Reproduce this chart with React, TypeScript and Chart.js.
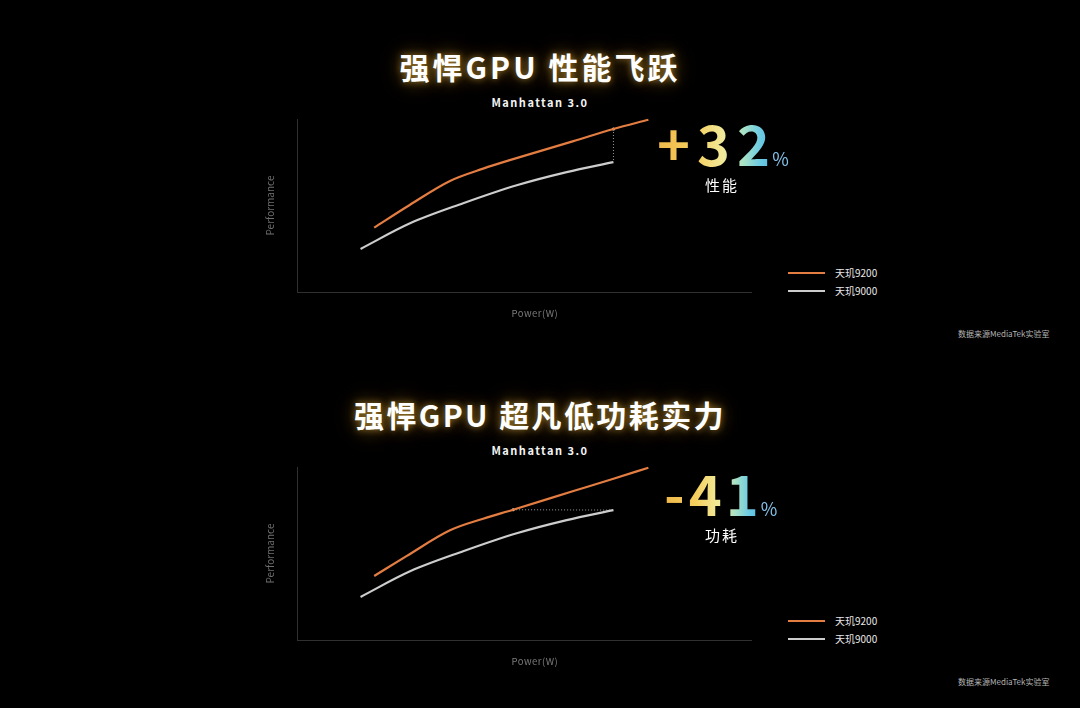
import React, { useEffect, useRef } from 'react';
import { Chart, registerables } from 'chart.js';

Chart.register(...registerables);

// ---------- data ----------
const seriesNames = ['天玑9200', '天玑9000'];
const seriesColors = ['#e37d42', '#cdcdcd'];

const xAxisTitle = 'Power(W)';
const yAxisTitle = 'Performance';

// 天玑9200 curve (top panel / bottom panel)
const power9200 = [17.0, 24.2, 33.7, 41.0, 47.6, 60.9, 69.7, 77.4];
const perf9200Top = [37.2, 49.3, 64.2, 71.3, 76.8, 87.2, 94.2, 99.6];
const perf9200Bottom = [37.0, 48.6, 63.4, 70.1, 75.3, 86.1, 93.2, 99.6];

// 天玑9000 curve (same in both panels)
const power9000 = [14.0, 24.9, 36.6, 48.4, 59.4, 69.7];
const perf9000 = [24.9, 39.7, 51.3, 61.7, 69.3, 75.1];

const panelTitles = ['强悍GPU 性能飞跃', '强悍GPU 超凡低功耗实力'];
const benchmarkName = 'Manhattan 3.0';
const deltaValues = ['+32', '-41'];
const deltaLabels = ['性能', '功耗'];
const sourceNote = '数据来源MediaTek实验室';

// guide line endpoints: [index in 9200 series, index in 9000 series]
const guideIndexTop = [6, 5];
const guideIndexBottom = [4, 5];

const FONT = '"Noto Sans CJK SC", "Noto Sans", sans-serif';

const powerTitlePlugin = {
  id: 'powerTitle',
  afterDraw(chart: any) {
    const { ctx, chartArea } = chart;
    ctx.save();
    ctx.font = `9.5px ${FONT}`;
    ctx.fillStyle = '#7a7a7a';
    ctx.textAlign = 'center';
    ctx.textBaseline = 'middle';
    try { (ctx as any).letterSpacing = '0.5px'; } catch (e) {}
    ctx.fillText(xAxisTitle, chartArea.left + chartArea.width * 0.524, chartArea.bottom + 21);
    ctx.restore();
  },
};

function toPoints(xs: number[], ys: number[]) {
  return xs.map((x, i) => ({ x, y: ys[i] }));
}

interface PanelProps {
  perf9200: number[];
  guide: number[];
}

function PanelChart({ perf9200, guide }: PanelProps) {
  const ref = useRef<HTMLCanvasElement | null>(null);
  useEffect(() => {
    if (!ref.current) return;
    const guidePts = [
      { x: power9200[guide[0]], y: perf9200[guide[0]] },
      { x: power9000[guide[1]], y: perf9000[guide[1]] },
    ];
    const chart = new Chart(ref.current, {
      type: 'line',
      data: {
        datasets: [
          {
            label: seriesNames[0],
            data: toPoints(power9200, perf9200),
            borderColor: seriesColors[0],
            borderWidth: 2.2,
            pointRadius: 0,
            cubicInterpolationMode: 'monotone',
            clip: false,
          },
          {
            label: seriesNames[1],
            data: toPoints(power9000, perf9000),
            borderColor: seriesColors[1],
            borderWidth: 2.2,
            pointRadius: 0,
            cubicInterpolationMode: 'monotone',
            clip: false,
          },
          {
            label: 'guide',
            data: guidePts,
            borderColor: 'rgba(210,210,210,0.75)',
            borderWidth: 1,
            borderDash: [1, 2],
            pointRadius: [1.5, 0],
            pointBackgroundColor: '#ffffff',
            pointBorderWidth: 0,
            clip: false,
          },
        ] as any,
      },
      options: {
        animation: false,
        responsive: true,
        maintainAspectRatio: false,
        layout: { padding: { left: 0, top: 19, right: 19, bottom: 0 } },
        plugins: { legend: { display: false }, tooltip: { enabled: false } },
        scales: {
          x: {
            type: 'linear',
            min: 0,
            max: 100,
            grid: { display: false },
            border: { display: true, color: '#303030', width: 1 },
            ticks: { display: false },
            afterFit: (s: any) => { s.height = 38; },
          },
          y: {
            type: 'linear',
            min: 0,
            max: 100,
            grid: { display: false },
            border: { display: true, color: '#303030', width: 1 },
            ticks: { display: false },
            title: {
              display: true,
              text: yAxisTitle,
              color: '#6e6e6e',
              font: { size: 10, family: FONT },
              padding: { top: 14.5, bottom: 0 },
            },
            afterFit: (s: any) => { s.width = 47; },
          },
        },
      } as any,
      plugins: [powerTitlePlugin],
    });
    return () => chart.destroy();
  }, [perf9200, guide]);
  return <canvas ref={ref} />;
}

function Panel({ idx, offset }: { idx: number; offset: number }) {
  const perf9200 = idx === 0 ? perf9200Top : perf9200Bottom;
  const guide = idx === 0 ? guideIndexTop : guideIndexBottom;
  const bigLeft = idx === 0 ? 657 : 664;
  const spacing = idx === 0 ? 7 : 4;
  return (
    <>
      <div
        style={{
          position: 'absolute', left: 0, top: 51 + offset, width: 1080, height: 30,
          textAlign: 'center', fontFamily: FONT, fontWeight: 700, fontSize: 30,
          lineHeight: '30px', letterSpacing: idx === 0 ? 3 : 2.4, color: '#ffffff',
          textShadow: '0 0 7px rgba(255,200,80,0.55), 0 0 18px rgba(255,180,50,0.35), 0 0 30px rgba(255,170,40,0.2)',
          whiteSpace: 'pre',
        }}
      >
        {panelTitles[idx]}
      </div>
      <div
        style={{
          position: 'absolute', left: 0, top: 96 + offset, width: 1080, height: 12,
          textAlign: 'center', fontFamily: FONT, fontWeight: 700, fontSize: 11,
          lineHeight: '12px', letterSpacing: 1.5, color: '#f4f4f4',
        }}
      >
        {benchmarkName}
      </div>
      <div style={{ position: 'absolute', left: 250, top: 100 + offset, width: 520, height: 230 }}>
        <PanelChart perf9200={perf9200} guide={guide} />
      </div>
      <div
        style={{
          position: 'absolute', left: bigLeft, top: 114 + offset + (idx === 0 ? 0 : 2), display: 'flex',
          alignItems: 'baseline', fontFamily: FONT, lineHeight: '56px', whiteSpace: 'pre',
        }}
      >
        <span
          style={{
            fontSize: 56, fontWeight: 700, letterSpacing: spacing,
            backgroundImage: 'linear-gradient(90deg, #efb84a 0%, #f5cf5e 32%, #f1e99a 55%, #a9e2c6 72%, #6ccbe2 86%, #4fb3e6 100%)',
            WebkitBackgroundClip: 'text', backgroundClip: 'text', color: 'transparent',
            WebkitTextFillColor: 'transparent',
          }}
        >
          {deltaValues[idx]}
        </span>
        <span style={{ fontSize: 18, color: '#84c2ea', marginLeft: 2 - spacing }}>%</span>
      </div>
      <div
        style={{
          position: 'absolute', left: 705, top: 177 + offset + (idx === 0 ? 0 : 2), fontFamily: FONT,
          fontSize: 15, lineHeight: '16px', letterSpacing: 2, color: '#ffffff',
        }}
      >
        {deltaLabels[idx]}
      </div>
      {seriesNames.map((name, i) => (
        <div
          key={name}
          style={{
            position: 'absolute', left: 788, top: 267 + offset + i * 18, height: 12,
            display: 'flex', alignItems: 'center', fontFamily: FONT, fontSize: 10,
            color: '#e8e8e8',
          }}
        >
          <div style={{ width: 37, height: 2, background: seriesColors[i], marginRight: 10 }} />
          <span style={{ lineHeight: '12px' }}>{name}</span>
        </div>
      ))}
      <div
        style={{
          position: 'absolute', left: 958, top: 329 + offset, fontFamily: FONT,
          fontSize: 8, lineHeight: '10px', color: '#b5b5b5', whiteSpace: 'pre',
        }}
      >
        {sourceNote}
      </div>
    </>
  );
}

export default function App() {
  useEffect(() => {
    document.body.style.margin = '0';
    document.body.style.background = '#000';
  }, []);
  return (
    <div
      style={{
        position: 'fixed', left: 0, top: 0, width: 1080, height: 708,
        background: '#000', overflow: 'hidden',
      }}
    >
      <Panel idx={0} offset={0} />
      <Panel idx={1} offset={348} />
    </div>
  );
}
